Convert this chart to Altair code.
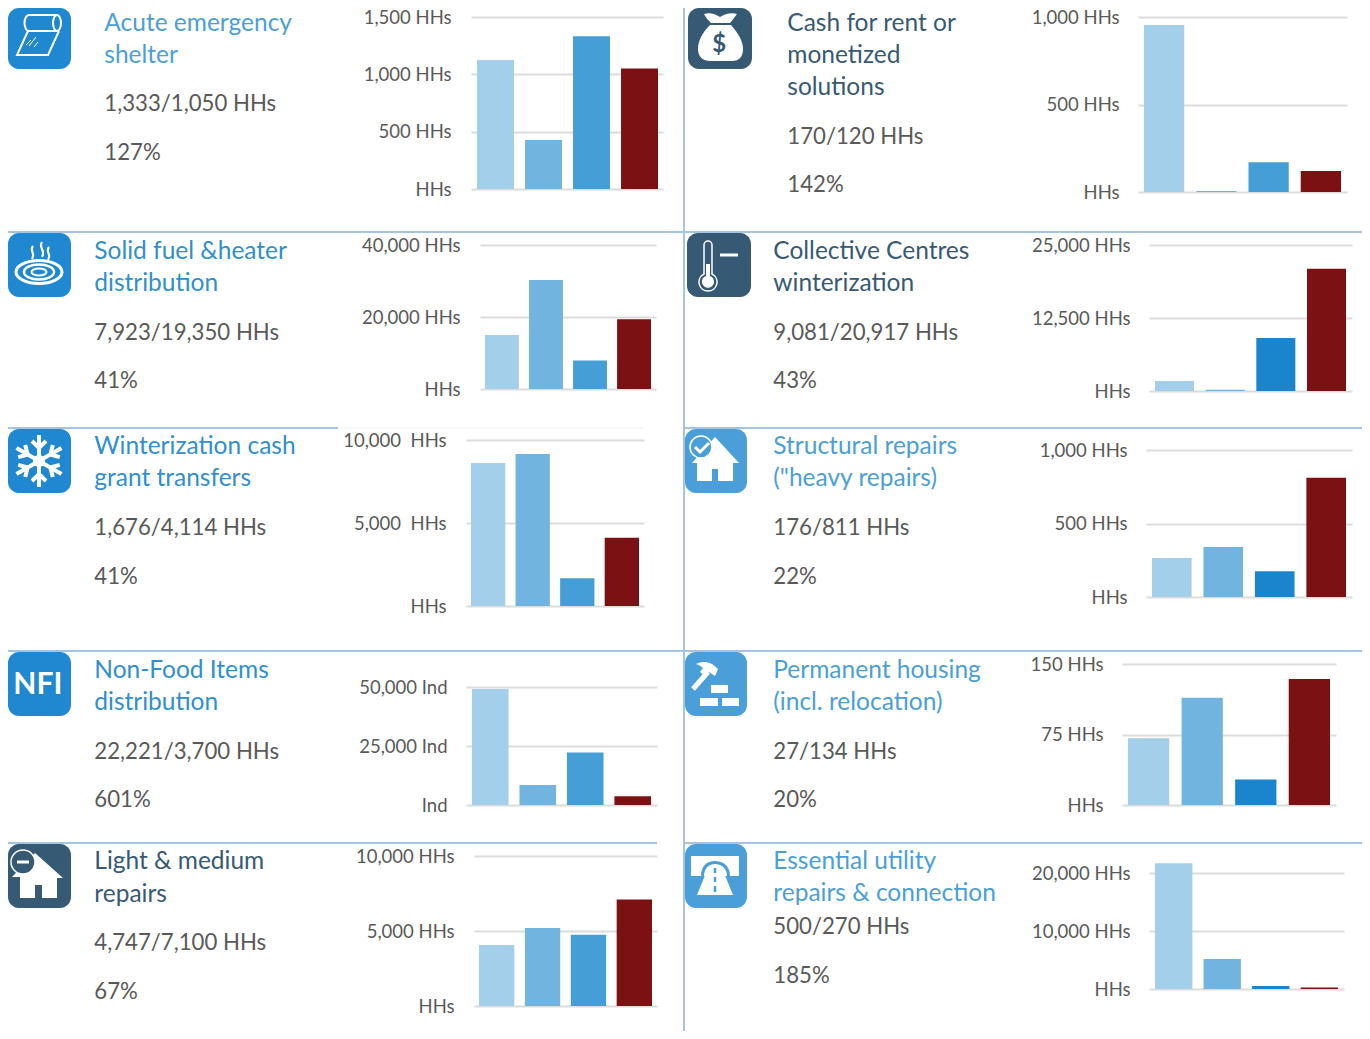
import math
import altair as alt

FONT = "Lato"
BLUE_TILE = "#1f88d0"
LIGHT_TILE = "#4a9fd8"
DARK_TILE = "#375a74"
LINE = "#a3c4e5"
GREY = "#595959"
WHITE = "#ffffff"

SERIES = ["Series 1", "Series 2", "Series 3", "Series 4"]

# ---- values ----
V_ACUTE = [1125, 427, 1333, 1050]
V_CASH = [954, 6, 170, 120]
V_FUEL = [15000, 30300, 7923, 19350]
V_COLLECTIVE = [1700, 200, 9081, 20917]
V_WINTER = [8614, 9157, 1676, 4114]
V_STRUCT = [265, 340, 176, 811]
V_NFI = [49150, 8470, 22221, 3700]
V_PERM = [71, 114, 27, 134]
V_LIGHT = [4067, 5200, 4747, 7100]
V_UTIL = [21700, 5170, 500, 270]

TICKS_ACUTE = [0, 500, 1000, 1500]
TICKS_CASH = [0, 500, 1000]
TICKS_FUEL = [0, 20000, 40000]
TICKS_COLLECTIVE = [0, 12500, 25000]
TICKS_WINTER = [0, 5000, 10000]
TICKS_STRUCT = [0, 500, 1000]
TICKS_NFI = [0, 25000, 50000]
TICKS_PERM = [0, 75, 150]
TICKS_LIGHT = [0, 5000, 10000]
TICKS_UTIL = [0, 10000, 20000]


def X(v):
    return v - 8


def Y(v):
    return v - 8


def one(**row):
    return alt.Data(values=[row])


def txt(s, x, y, color=GREY, size=22.2, weight="normal"):
    return (
        alt.Chart(one(t=s))
        .mark_text(font=FONT, fontSize=size, color=color, align="left", baseline="middle", fontWeight=weight)
        .encode(text="t:N", x=alt.value(X(x - 0.7)), y=alt.value(Y(y + 1)))
    )


def hline(y, x0, x1, color=LINE, w=2):
    return (
        alt.Chart(one(k=1))
        .mark_rule(color=color, strokeWidth=w)
        .encode(x=alt.value(X(x0)), x2=alt.value(X(x1)), y=alt.value(Y(y)))
    )


def vline(x, y0, y1, color=LINE, w=2):
    return (
        alt.Chart(one(k=1))
        .mark_rule(color=color, strokeWidth=w)
        .encode(x=alt.value(X(x)), y=alt.value(Y(y0)), y2=alt.value(Y(y1)))
    )


def tile(x0, y0, x1, y1, color):
    return (
        alt.Chart(one(k=1))
        .mark_rect(color=color, cornerRadius=11)
        .encode(x=alt.value(X(x0)), x2=alt.value(X(x1)), y=alt.value(Y(y0)), y2=alt.value(Y(y1)))
    )


def glyph(path, x0, y0, fill="transparent", stroke="transparent", sw=0):
    return (
        alt.Chart(one(k=1))
        .mark_point(shape=path, size=4, fill=fill, stroke=stroke, strokeWidth=sw, opacity=1, filled=False)
        .encode(x=alt.value(X(x0)), y=alt.value(Y(y0)))
    )


def ell(cx, cy, rx, ry):
    return f"M{cx-rx} {cy}A{rx} {ry} 0 1 0 {cx+rx} {cy}A{rx} {ry} 0 1 0 {cx-rx} {cy}Z"


def panel(values, ticks, unit, third, grid, bars, lab_right, y0, ytop, sp=" "):
    """grid=(left,right) px of gridlines, bars=(left,right) px of bars, y0/ytop = px of first/last tick."""
    colors = ["#a3cfea", "#72b4e0", third, "#7b1113"]
    rows = [{"s": s, "v": v} for s, v in zip(SERIES, values)]
    expr = f"datum.value === 0 ? '{unit}' : format(datum.value, ',') + '{sp}{unit}'"
    n = grid[1] - grid[0]
    return (
        alt.Chart(alt.Data(values=rows))
        .mark_bar(cornerRadius=0)
        .encode(
            x=alt.X(
                "s:N",
                sort=SERIES,
                axis=None,
                scale=alt.Scale(type="band", range=[X(bars[0]), X(bars[1])], paddingInner=0.23, paddingOuter=0),
            ),
            y=alt.Y(
                "v:Q",
                scale=alt.Scale(domain=[0, ticks[-1]], range=[Y(y0), Y(ytop)], nice=False, zero=True),
                axis=alt.Axis(
                    orient="left",
                    offset=-X(grid[1]),
                    values=ticks,
                    domain=False,
                    grid=False,
                    title=None,
                    ticks=True,
                    tickSize=n,
                    tickWidth=2,
                    tickColor="#dcdcdc",
                    labelPadding=grid[0] - lab_right,
                    labelFont=FONT,
                    labelFontSize=18.5,
                    labelOffset=0,
                    labelColor=GREY,
                    labelExpr=expr,
                    labelOverlap=False,
                    labelBound=False,
                    labelFlush=False,
                    zindex=0,
                ),
            ),
            color=alt.Color("s:N", scale=alt.Scale(domain=SERIES, range=colors), legend=None),
        )
    )


C1 = "#459fd6"
C2 = "#1a84cc"
TITLE_B = "#2f8fd0"
TITLE_L = "#4a9fd8"
TITLE_D = "#375a74"
TITLE_SIZE = 24.5

layers = []

# dividers
layers += [
    vline(684, 4, 1039),
    hline(232, 6, 1366),
    hline(428, 6, 338),
    hline(428, 338, 645, "#eef3f8", 1),
    hline(428, 685, 1366),
    hline(651, 6, 1366),
    hline(843, 6, 657),
    hline(843, 685, 1366),
]

# bar panels
layers += [
    panel(V_ACUTE, TICKS_ACUTE, "HHs", C1, (471, 663), (477, 658), 451, 189, 17),
    panel(V_CASH, TICKS_CASH, "HHs", C1, (1138, 1347), (1144, 1341), 1119, 192, 17),
    panel(V_FUEL, TICKS_FUEL, "HHs", C1, (480, 656), (485, 651), 460, 389, 245),
    panel(V_COLLECTIVE, TICKS_COLLECTIVE, "HHs", C2, (1149, 1352), (1155, 1346), 1130, 391, 245),
    panel(V_WINTER, TICKS_WINTER, "HHs", C1, (466, 644), (471, 639), 446, 606, 440, " \u00a0"),
    panel(V_STRUCT, TICKS_STRUCT, "HHs", C2, (1146, 1352), (1152, 1346), 1127, 597, 450),
    panel(V_NFI, TICKS_NFI, "Ind", C1, (466, 657), (472, 651), 447, 805, 687),
    panel(V_PERM, TICKS_PERM, "HHs", C2, (1122, 1336), (1128, 1330), 1103, 805, 664),
    panel(V_LIGHT, TICKS_LIGHT, "HHs", C1, (474, 657), (479, 652), 454, 1006, 856),
    panel(V_UTIL, TICKS_UTIL, "HHs", C2, (1149, 1344), (1155, 1338), 1130, 989, 873),
]

# texts
blocks = [
    (105, TITLE_L, [("Acute emergency", 23), ("shelter", 55)], [("1,333/1,050 HHs", 103), ("127%", 152)]),
    (788, TITLE_D, [("Cash for rent or", 23), ("monetized", 55), ("solutions", 87)], [("170/120 HHs", 136), ("142%", 184)]),
    (95, TITLE_B, [("Solid fuel &heater", 251), ("distribution", 283)], [("7,923/19,350 HHs", 332), ("41%", 380)]),
    (774, TITLE_D, [("Collective Centres", 251), ("winterization", 283)], [("9,081/20,917 HHs", 332), ("43%", 380)]),
    (95, TITLE_B, [("Winterization cash", 446), ("grant transfers", 478)], [("1,676/4,114 HHs", 527), ("41%", 576)]),
    (774, TITLE_L, [("Structural repairs", 446), ('("heavy repairs)', 478)], [("176/811 HHs", 527), ("22%", 576)]),
    (95, TITLE_B, [("Non-Food Items", 670), ("distribution", 702)], [("22,221/3,700 HHs", 751), ("601%", 799)]),
    (774, TITLE_L, [("Permanent housing", 670), ("(incl. relocation)", 702)], [("27/134 HHs", 751), ("20%", 799)]),
    (95, TITLE_D, [("Light & medium", 861), ("repairs", 894)], [("4,747/7,100 HHs", 942), ("67%", 991)]),
    (774, TITLE_L, [("Essential utility", 861), ("repairs & connection", 893)], [("500/270 HHs", 926), ("185%", 975)]),
]
for x, col, titles, body in blocks:
    for s, y in titles:
        layers.append(txt(s, x, y, col, TITLE_SIZE))
    for s, y in body:
        layers.append(txt(s, x, y, GREY))

# tiles
layers += [
    tile(8, 8, 71, 69, BLUE_TILE),
    tile(688, 8, 752, 69, DARK_TILE),
    tile(8, 233, 71, 297, BLUE_TILE),
    tile(687, 233, 751, 297, DARK_TILE),
    tile(8, 429, 71, 493, BLUE_TILE),
    tile(685, 429, 747, 493, LIGHT_TILE),
    tile(8, 652, 71, 716, BLUE_TILE),
    tile(685, 652, 747, 716, LIGHT_TILE),
    tile(8, 844, 71, 908, DARK_TILE),
    tile(685, 844, 747, 908, LIGHT_TILE),
]

# icon 1: film roll
layers += [
    glyph("M50 10H22A4.5 8 0 0 0 22 26H50" + ell(50, 18, 4, 8), 7, 5, stroke=WHITE, sw=2),
    glyph("M21 26L10 50H41L52 26", 7, 5, stroke=WHITE, sw=2),
    glyph("M24 35L19 40M29 32L22 41M31 37L27 42", 7, 5, stroke=WHITE, sw=1),
]
# icon 2: money bag
layers += [
    glyph("M16 9C22 7 27 9 32 12C37 9 43 7 49 9C46 13 44 16 42 18H23C21 16 18 13 16 9Z", 688, 5, fill=WHITE),
    glyph("M22 20C14 28 10 36 10 44C10 52 15 56 22 56H44C51 56 55 52 55 44C55 36 50 28 43 20Z", 688, 5, fill=WHITE),
    txt("$", 713, 44, DARK_TILE, 24, "bold"),
]
# icon 3: burner
layers += [
    glyph(ell(32, 39, 23, 11.5), 7, 233, stroke=WHITE, sw=3),
    glyph(ell(32, 39, 15, 7.5), 7, 233, stroke=WHITE, sw=2.5),
    glyph(ell(32, 39, 7.5, 3.5), 7, 233, stroke=WHITE, sw=2),
    glyph("M26 13C22 18 29 20 25 26M35 9C31 15 39 17 35 24M42 14C38 19 45 21 41 27", 7, 233, stroke=WHITE, sw=2.2),
]
# icon 4: thermometer
layers += [
    glyph("M17 41V12A4 4 0 0 1 25 12V41A9 9 0 1 1 17 41Z", 687, 233, stroke=WHITE, sw=1.5),
    glyph("M19 31H23V43A6 6 0 1 1 19 43Z", 687, 233, fill=WHITE),
    glyph("M33 22H51", 687, 233, stroke=WHITE, sw=3),
]
# icon 5: snowflake
arms = ""
for k in range(6):
    a = math.radians(90 + 60 * k)
    ca, sa = math.cos(a), math.sin(a)

    def pt(r, t):
        return f"{32 + r * ca - t * sa:.1f} {32 - r * sa - t * ca:.1f}"

    arms += f"M{pt(0, 0)}L{pt(26, 0)}M{pt(20, -7)}L{pt(13, 0)}L{pt(20, 7)}"
layers += [glyph(arms, 7, 429, stroke=WHITE, sw=4), glyph(ell(32, 32, 6, 6), 7, 429, fill=WHITE)]
# icon 6: house with check
HOUSE = "M7 34L30 8L54 34H48V52H33V40H27V52H12V34Z"
layers += [
    glyph(HOUSE, 685, 429, fill=WHITE),
    glyph(ell(16, 18, 11, 11), 685, 429, fill=LIGHT_TILE, stroke=WHITE, sw=1.5),
    glyph("M10 18L15 23L24 14", 685, 429, stroke=WHITE, sw=3),
]
# icon 7: NFI
layers.append(txt("NFI", 14, 684, WHITE, 30, "bold"))
# icon 8: hammer + bricks
layers += [
    glyph("M26 33H43V41H26ZM15 46H33V54H15ZM37 46H54V54H37Z", 685, 652, fill=WHITE),
    glyph("M8 37L23 20", 685, 652, stroke=WHITE, sw=5),
    glyph("M11 12C18 8 27 10 33 17L30 24L24 20L20 24L15 20L18 16C16 14 14 13 11 12Z", 685, 652, fill=WHITE),
]
# icon 9: house with minus
layers += [
    glyph("M5 33L28 9L56 34H50V54H35V41H28V54H13V33Z", 7, 844, fill=WHITE),
    glyph(ell(16, 18, 12, 12), 7, 844, fill=DARK_TILE, stroke=WHITE, sw=1.5),
    glyph("M10 18H22", 7, 844, stroke=WHITE, sw=3),
]
# icon 10: road tunnel
layers += [
    glyph("M6 12H54V32H6Z", 685, 844, fill=WHITE),
    glyph("M16 32C16 22 22 17 30 17C38 17 45 22 45 32Z", 685, 844, fill=LIGHT_TILE),
    glyph("M19 32C19 24 24 20 30 20C36 20 42 24 42 32Z", 685, 844, fill=WHITE),
    glyph("M23 24H37L48 51H12Z", 685, 844, fill=WHITE),
    glyph("M30 24V29M30 33V38M30 42V48", 685, 844, stroke=LIGHT_TILE, sw=2.5),
]

chart = (
    alt.layer(*layers)
    .resolve_scale(x="independent", y="independent", color="independent")
    .properties(width=1354, height=1023, padding=0, autosize=alt.AutoSizeParams(type="none"))
    .configure_view(stroke=None)
)

chart.save("out.html", embed_options={"renderer": "svg", "actions": False})
